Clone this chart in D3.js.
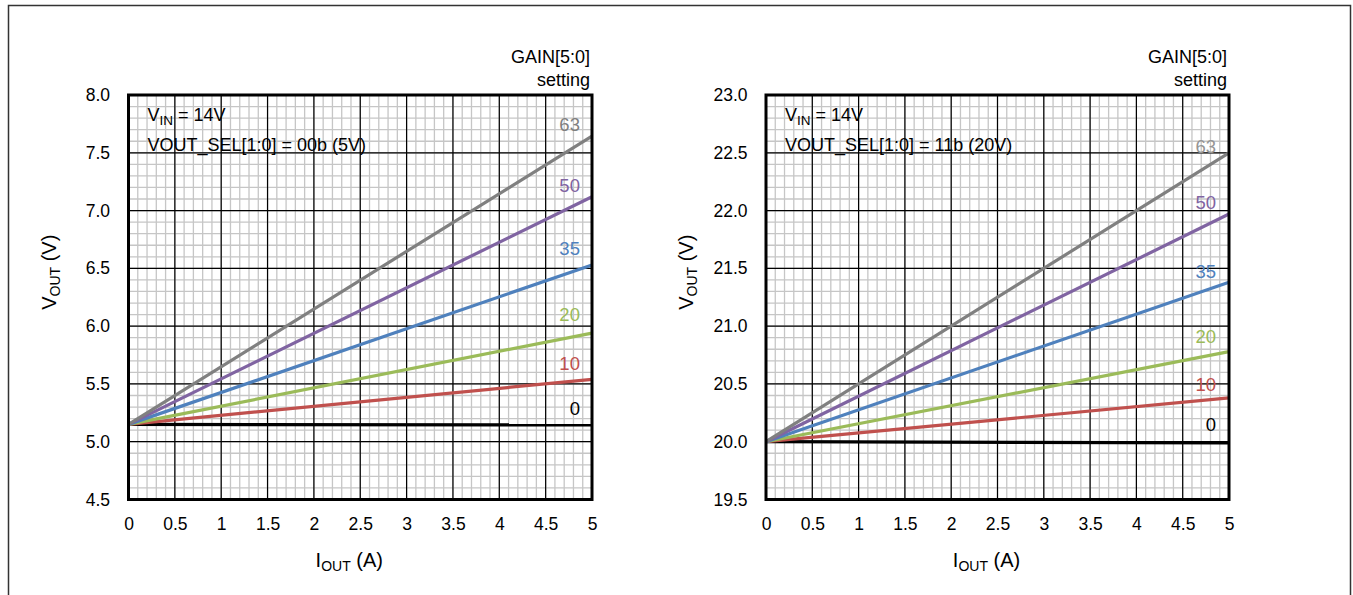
<!DOCTYPE html>
<html>
<head>
<meta charset="utf-8">
<script src="https://cdn.jsdelivr.net/npm/d3@7"></script>
<style>
  body { margin: 0; background: #fff; }
  svg { display: block; font-family: "Liberation Sans", Arial, Helvetica, sans-serif; }
</style>
</head>
<body>
<div id="chart"></div>
<script>
// GAIN[5:0] settings and the colour of each line
const gains = [0, 10, 20, 35, 50, 63];
const gainColors = ["#000000", "#c0504d", "#9bbb59", "#4f81bd", "#8064a2", "#808080"];

// output current, both ends of each line (A)
const iout = [0, 5];
const xTicks = [0, 0.5, 1, 1.5, 2, 2.5, 3, 3.5, 4, 4.5, 5];
const xTickLabels = ["0", "0.5", "1", "1.5", "2", "2.5", "3", "3.5", "4", "4.5", "5"];

// left panel, VOUT_SEL[1:0] = 00b (5V)
const leftYTicks = [4.5, 5, 5.5, 6, 6.5, 7, 7.5, 8];
const leftYTickLabels = ["4.5", "5.0", "5.5", "6.0", "6.5", "7.0", "7.5", "8.0"];
const leftVoutAt0 = [5.15, 5.15, 5.15, 5.15, 5.15, 5.15];
const leftVoutAt5 = [5.145, 5.54, 5.94, 6.53, 7.12, 7.645];
const leftLabelY = [5.29, 5.68, 6.10, 6.67, 7.22, 7.75];

// right panel, VOUT_SEL[1:0] = 11b (20V)
const rightYTicks = [19.5, 20, 20.5, 21, 21.5, 22, 22.5, 23];
const rightYTickLabels = ["19.5", "20.0", "20.5", "21.0", "21.5", "22.0", "22.5", "23.0"];
const rightVoutAt0 = [20.0, 20.0, 20.0, 20.0, 20.0, 20.0];
const rightVoutAt5 = [19.99, 20.38, 20.78, 21.38, 21.97, 22.50];
const rightLabelY = [20.15, 20.50, 20.91, 21.47, 22.07, 22.56];

const width = 1353, height = 595;

const svg = d3.select("#chart").append("svg")
    .attr("width", width)
    .attr("height", height);

// outer frame
svg.append("rect")
    .attr("x", 8.5).attr("y", 5.5)
    .attr("width", 1342).attr("height", 600)
    .attr("fill", "none")
    .attr("stroke", "#333")
    .attr("stroke-width", 1.5);

function drawPanel(p) {
  const x = d3.scaleLinear().domain([0, 5]).range([p.left, p.right]);
  const y = d3.scaleLinear().domain(p.yDomain).range([p.bottom, p.top]);
  const g = svg.append("g");

  // minor grid, 0.1 steps
  g.append("g")
      .attr("stroke", "#c6c6c6")
      .attr("stroke-width", 1.3)
    .selectAll("line")
    .data(x.ticks(50))
    .join("line")
      .attr("x1", d => x(d)).attr("x2", d => x(d))
      .attr("y1", p.top).attr("y2", p.bottom);
  g.append("g")
      .attr("stroke", "#c6c6c6")
      .attr("stroke-width", 1.3)
    .selectAll("line")
    .data(y.ticks(35))
    .join("line")
      .attr("y1", d => y(d)).attr("y2", d => y(d))
      .attr("x1", p.left).attr("x2", p.right);

  // major grid
  g.append("g")
      .attr("stroke", "#000")
      .attr("stroke-width", 1.2)
    .selectAll("line")
    .data(xTicks)
    .join("line")
      .attr("x1", d => x(d)).attr("x2", d => x(d))
      .attr("y1", p.top).attr("y2", p.bottom);
  g.append("g")
      .attr("stroke", "#000")
      .attr("stroke-width", 1.2)
    .selectAll("line")
    .data(p.yTicks)
    .join("line")
      .attr("y1", d => y(d)).attr("y2", d => y(d))
      .attr("x1", p.left).attr("x2", p.right);

  // one line per gain setting
  const series = gains.map((gn, i) => ({
    gain: gn,
    color: gainColors[i],
    labelY: p.labelY[i],
    points: iout.map((c, j) => [c, j === 0 ? p.at0[i] : p.at5[i]])
  }));
  const line = d3.line().x(d => x(d[0])).y(d => y(d[1]));

  g.append("g")
      .attr("fill", "none")
      .attr("stroke-width", 3.2)
    .selectAll("path")
    .data(series)
    .join("path")
      .attr("stroke", d => d.color)
      .attr("d", d => line(d.points));

  // plot border
  g.append("rect")
      .attr("x", p.left).attr("y", p.top)
      .attr("width", p.right - p.left).attr("height", p.bottom - p.top)
      .attr("fill", "none")
      .attr("stroke", "#000")
      .attr("stroke-width", 3);

  // gain labels
  g.append("g")
      .attr("font-size", 18.5)
      .attr("text-anchor", "end")
    .selectAll("text")
    .data(series)
    .join("text")
      .attr("x", x(p.labelX))
      .attr("y", d => y(d.labelY))
      .attr("dy", "0.36em")
      .attr("fill", d => d.color === "#808080" ? p.grayLabel : d.color)
      .text(d => d.gain);

  // axes
  const xAxis = g.append("g")
      .attr("transform", `translate(0,${p.bottom})`)
      .call(d3.axisBottom(x).tickValues(xTicks)
        .tickFormat((d, i) => xTickLabels[i]).tickSize(0).tickPadding(18));
  const yAxis = g.append("g")
      .attr("transform", `translate(${p.left},0)`)
      .call(d3.axisLeft(y).tickValues(p.yTicks)
        .tickFormat((d, i) => p.yTickLabels[i]).tickSize(0).tickPadding(18.5));
  [xAxis, yAxis].forEach(a => {
    a.attr("font-family", null).attr("font-size", 17.5);
    a.select(".domain").remove();
    a.selectAll("text").attr("fill", "#000");
  });

  // axis titles
  const xt = g.append("text")
      .attr("x", (p.left + p.right) / 2 - 11)
      .attr("y", 567)
      .attr("text-anchor", "middle")
      .attr("font-size", 20);
  xt.append("tspan").text("I");
  xt.append("tspan").attr("font-size", 14).attr("dy", 4).text("OUT");
  xt.append("tspan").attr("dy", -4).text(" (A)");

  const yt = g.append("text")
      .attr("transform", `translate(${p.left - 73},${(p.top + p.bottom) / 2 - 25}) rotate(-90)`)
      .attr("text-anchor", "middle")
      .attr("font-size", 20);
  yt.append("tspan").text("V");
  yt.append("tspan").attr("font-size", 14).attr("dy", 4).text("OUT");
  yt.append("tspan").attr("dy", -4).text(" (V)");

  // condition notes
  const n1 = g.append("text")
      .attr("x", p.left + 19).attr("y", 121)
      .attr("font-size", 18);
  n1.append("tspan").text("V");
  n1.append("tspan").attr("font-size", 13.5).attr("dy", 4).text("IN");
  n1.append("tspan").attr("dy", -4).text(" = 14V");
  g.append("text")
      .attr("x", p.left + 19).attr("y", 151)
      .attr("font-size", 18)
      .text(p.note);

  // legend heading
  g.append("text")
      .attr("x", p.right - 2).attr("y", 63)
      .attr("text-anchor", "end")
      .attr("font-size", 18)
      .text("GAIN[5:0]");
  g.append("text")
      .attr("x", p.right - 2).attr("y", 86)
      .attr("text-anchor", "end")
      .attr("font-size", 18)
      .text("setting");
}

drawPanel({
  left: 128.5, right: 592, top: 95, bottom: 499.5,
  yDomain: [4.5, 8], yTicks: leftYTicks, yTickLabels: leftYTickLabels,
  at0: leftVoutAt0, at5: leftVoutAt5, labelY: leftLabelY, labelX: 4.87,
  grayLabel: "#808080",
  note: "VOUT_SEL[1:0] = 00b (5V)"
});

drawPanel({
  left: 766, right: 1229, top: 95, bottom: 499.5,
  yDomain: [19.5, 23], yTicks: rightYTicks, yTickLabels: rightYTickLabels,
  at0: rightVoutAt0, at5: rightVoutAt5, labelY: rightLabelY, labelX: 4.86,
  grayLabel: "#959595",
  note: "VOUT_SEL[1:0] = 11b (20V)"
});
</script>
</body>
</html>
